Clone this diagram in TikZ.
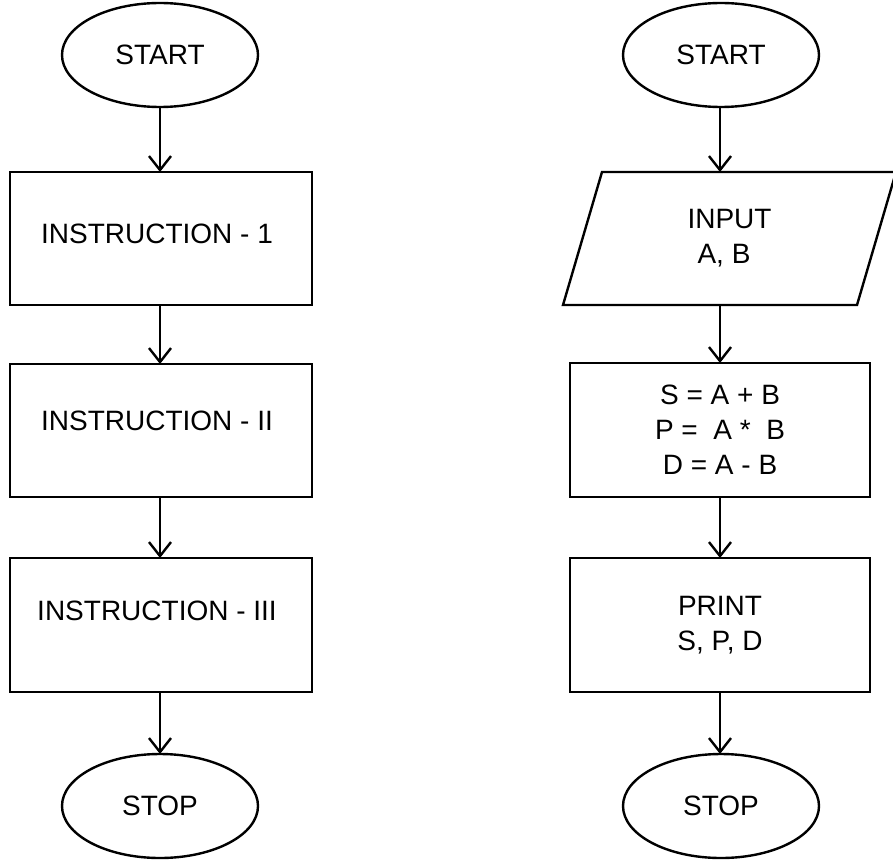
\documentclass[tikz,border=0pt]{standalone}
\usepackage{fontspec}
\setmainfont{Liberation Sans}
\usetikzlibrary{shapes.geometric,arrows.meta,calc}
\begin{document}
\begin{tikzpicture}[x=1pt,y=-1pt,
  line width=2.4pt,
  every node/.style={outer sep=0pt,inner sep=0pt,align=center,
    font=\fontsize{28pt}{35pt}\selectfont},
  terminal/.style={draw,ellipse,minimum width=196pt,minimum height=104pt},
  procbox/.style={draw,rectangle,minimum width=302pt,minimum height=133pt},
  iobody/.style={rectangle,minimum width=294pt,minimum height=133pt},
  arr/.style={-{Straight Barb[length=14pt,width=22pt]}}]
\useasboundingbox (0,0) rectangle (893,861);

% ---- left flowchart: sequence of instructions ----
\node[terminal] (ls) at (160,55) {START};
\node[procbox] (l1) at (161,238.5) {\raisebox{-5pt}[0pt][0pt]{INSTRUCTION - 1\kern8pt}};
\node[procbox] (l2) at (161,430.5) {\raisebox{0pt}[0pt][0pt]{INSTRUCTION - II\kern8pt}};
\node[procbox,minimum height=134pt] (l3) at (161,625) {\raisebox{5pt}[0pt][0pt]{INSTRUCTION - III\kern8pt}};
\node[terminal] (le) at (160,806) {STOP};

\draw[arr] (ls.south) -- (ls.south |- l1.north);
\draw[arr] (l1.south -| ls.south) -- (ls.south |- l2.north);
\draw[arr] (l2.south -| ls.south) -- (ls.south |- l3.north);
\draw[arr] (l3.south -| ls.south) -- (le.north);

% ---- right flowchart: sum, product and difference ----
\node[terminal] (rs) at (721,55) {START};
\node[iobody] (inp) at (729.5,238.5) {INPUT\\A, B\kern11pt};
\draw ($(inp.south west)+(-19.5,0)$) -- ($(inp.north west)+(19.5,0)$)
   -- ($(inp.north east)+(19.5,0)$) -- ($(inp.south east)+(-19.5,0)$) -- cycle;
\node[procbox,minimum width=300pt,minimum height=134pt] (calc) at (720,430) {S = A + B\\P =\ \ A *\ \ B\\D = A - B};
\node[procbox,minimum width=300pt,minimum height=134pt] (out) at (720,625) {PRINT\\S, P, D};
\node[terminal] (re) at (721,806) {STOP};

\draw[arr] (calc.north |- rs.south) -- (calc.north |- inp.north);
\draw[arr] (calc.north |- inp.south) -- (calc.north);
\draw[arr] (calc.south) -- (out.north);
\draw[arr] (out.south) -- (out.south |- re.north);
\end{tikzpicture}
\end{document}
